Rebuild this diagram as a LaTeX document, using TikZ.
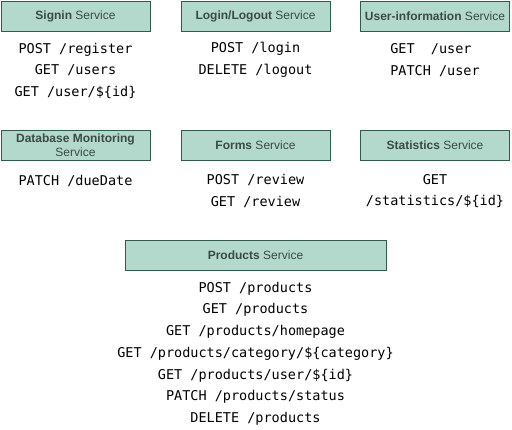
\documentclass[tikz,border=0pt]{standalone}
\usepackage{fontspec}
\setmainfont{Liberation Sans}
\setmonofont{DejaVu Sans Mono}

\definecolor{servicefill}{HTML}{B3D9CC}
\definecolor{serviceline}{HTML}{2F5A4C}
\definecolor{servicetext}{HTML}{3A4A45}

\tikzset{
    service/.style={draw=serviceline,fill=servicefill,line width=1pt,
        minimum width=149pt,minimum height=30pt,inner sep=0pt,
        text=servicetext,align=center,font=\fontsize{12}{14}\selectfont},
    routes/.style={inner sep=0pt,align=center,
        font=\fontsize{13.5}{21.7}\selectfont\ttfamily}
}

\begin{document}
\begin{tikzpicture}[x=1pt,y=-1pt]
    \useasboundingbox (0,0) rectangle (512,429);

    % Top row of services
    \node [service] (signin) at (75.5,16) {\textbf{Signin} Service};
    \node [service] (login) at (255.5,16) {\textbf{Login/Logout} Service};
    \node [service] (userinfo) at (435,16) {\textbf{User-information} Service};

    % Routes of the top row
    \node [routes] (signinroutes) at (75.5,70.8) {POST /register\\GET /users\\GET /user/\$\{id\}};
    \node [routes] (loginroutes) at (255.5,59.8) {POST /login\\DELETE /logout};
    \node [routes,align=left] (userinforoutes) at (435,59.8) {GET\ \ /user\\PATCH /user};

    % Middle row of services
    \node [service] (database) at (75.5,145.3) {\textbf{Database Monitoring}\\Service};
    \node [service] (forms) at (255.5,145.3) {\textbf{Forms} Service};
    \node [service] (statistics) at (435,145.3) {\textbf{Statistics} Service};

    % Routes of the middle row
    \node [routes] (databaseroutes) at (75.5,181) {PATCH /dueDate};
    \node [routes] (formsroutes) at (255.5,191.2) {POST /review\\GET /review};
    \node [routes] (statisticsroutes) at (435,191.2) {GET\\/statistics/\$\{id\}};

    % Products service and its routes
    \node [service,minimum width=261pt] (products) at (255.5,255.3) {\textbf{Products} Service};
    \node [routes] (productsroutes) at (255.5,353.6) {POST /products\\GET /products\\GET /products/homepage\\GET /products/category/\$\{category\}\\GET /products/user/\$\{id\}\\PATCH /products/status\\DELETE /products};
\end{tikzpicture}
\end{document}
